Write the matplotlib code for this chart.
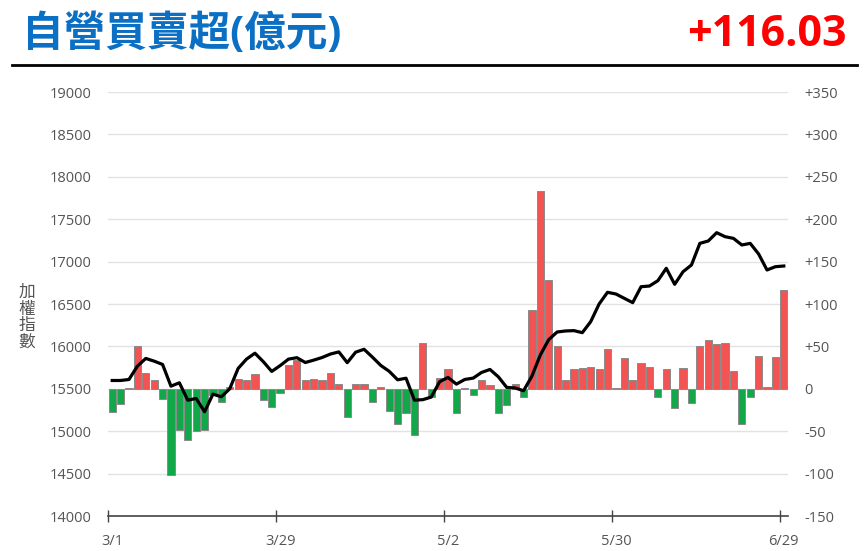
import numpy as np
import matplotlib
matplotlib.use("Agg")
import matplotlib.pyplot as plt
from matplotlib.ticker import FuncFormatter, FixedLocator
from matplotlib.lines import Line2D

plt.rcParams['font.family'] = ['Open Sans', 'Noto Sans CJK TC', 'DejaVu Sans']

# trading days 3/1 .. 6/29, labels every 20 days
tick_idx = [0, 20, 40, 60, 80]
tick_labels = ["3/1", "3/29", "5/2", "5/30", "6/29"]

# 加權指數 (close)
taiex = [15598, 15598, 15610, 15767, 15858, 15826, 15787, 15531, 15571, 15366,
         15386, 15229, 15437, 15406, 15500, 15740, 15850, 15920, 15820, 15705,
         15773, 15850, 15867, 15810, 15838, 15869, 15910, 15935, 15808, 15932,
         15966, 15873, 15775, 15706, 15606, 15625, 15366, 15372, 15402, 15583,
         15634, 15555, 15610, 15626, 15693, 15728, 15641, 15516, 15510, 15477,
         15650, 15900, 16080, 16170, 16182, 16186, 16162, 16292, 16500, 16638,
         16618, 16567, 16516, 16704, 16712, 16775, 16921, 16732, 16881, 16960,
         17215, 17243, 17341, 17294, 17274, 17196, 17215, 17090, 16901, 16940,
         16948]

# 自營買賣超 (億元)
net_buy = [-27, -18, 0.5, 51, 19, 10, -12, -102, -49, -60,
           -50, -49, -7.5, -16, 2, 11, 10, 17, -13, -21,
           -5.5, 28, 34.5, 10, 12, 10, 18.5, 5.5, -33, 5.5,
           5.5, -15, 2.5, -26, -41, -28, -54, 54.5, -10, 13,
           23, -29, 1, -7, 10, 4, -29, -19, 6, -10,
           93.5, 233.5, 128, 51, 10, 23.5, 25, 26, 23, 47,
           0.5, 36, 10, 30.5, 25.5, -10, 23, -22.5, 24, -17,
           51, 57, 53, 54, 21, -42, -10, 39, 2.5, 37,
           116.03]

x = np.arange(len(taiex))
net_buy = np.array(net_buy)
colors = np.where(net_buy >= 0, '#f25353', '#12a84a')

fig = plt.figure(figsize=(8.66, 5.51), dpi=100)
ax = fig.add_axes([108/866, 35/551, 680/866, 424/551])
ax2 = ax.twinx()

# bars + grid on the right axis, line on top
ax2.bar(x, net_buy, width=0.86, color=colors, edgecolor='#8a8a8a', linewidth=0.7)
ax2.set_ylim(-150, 350)
ax2.set_yticks(np.arange(-150, 351, 50))
ax2.yaxis.set_major_formatter(FuncFormatter(lambda v, p: "0" if v == 0 else "%+d" % v))
ax2.grid(axis='y', color='#e2e2e2', linewidth=1)
ax2.set_axisbelow(True)

ax.plot(x, taiex, color='black', linewidth=2.3, zorder=5)
ax.set_ylim(14000, 19000)
ax.set_yticks(np.arange(14000, 19001, 500))
ax.set_xlim(-0.5, len(taiex) - 0.5)
ax.set_zorder(ax2.get_zorder() + 1)
ax.patch.set_visible(False)

for a in (ax, ax2):
    for s in ('top', 'left', 'right', 'bottom'):
        a.spines[s].set_visible(False)
    a.tick_params(axis='y', length=0, labelsize=10.5, labelcolor='#555555', pad=12)
ax2.tick_params(axis='x', bottom=False, labelbottom=False)

ax.spines['bottom'].set_visible(True)
ax.spines['bottom'].set_color('#444444')
ax.spines['bottom'].set_linewidth(1.2)
ax.xaxis.set_major_locator(FixedLocator([i - 0.5 for i in tick_idx]))
ax.xaxis.set_major_formatter(FuncFormatter(lambda v, p: ""))
ax.xaxis.set_minor_locator(FixedLocator(tick_idx))
ax.set_xticklabels(tick_labels, minor=True)
ax.tick_params(axis='x', which='major', direction='inout', length=8, width=1, color='#444444')
ax.tick_params(axis='x', which='minor', length=0, labelsize=10.5, labelcolor='#555555', pad=13)

fig.text(22/866, 1 - 35/551, "自營買賣超(億元)", color='#0b6fc4', fontsize=30,
         fontweight='bold', va='center', ha='left')
fig.text(847/866, 1 - 34/551, "+116.03", color='#ff0000', fontsize=31,
         fontweight='bold', va='center', ha='right')
fig.add_artist(Line2D([12/866, 857/866], [1 - 65/551, 1 - 65/551], color='black', linewidth=2))

fig.text(27/866, 1 - 318/551, "加\n權\n指\n數", color='#555555', fontsize=12,
         ha='center', va='center', linespacing=1.05)

fig.savefig("out.png", dpi=100)
